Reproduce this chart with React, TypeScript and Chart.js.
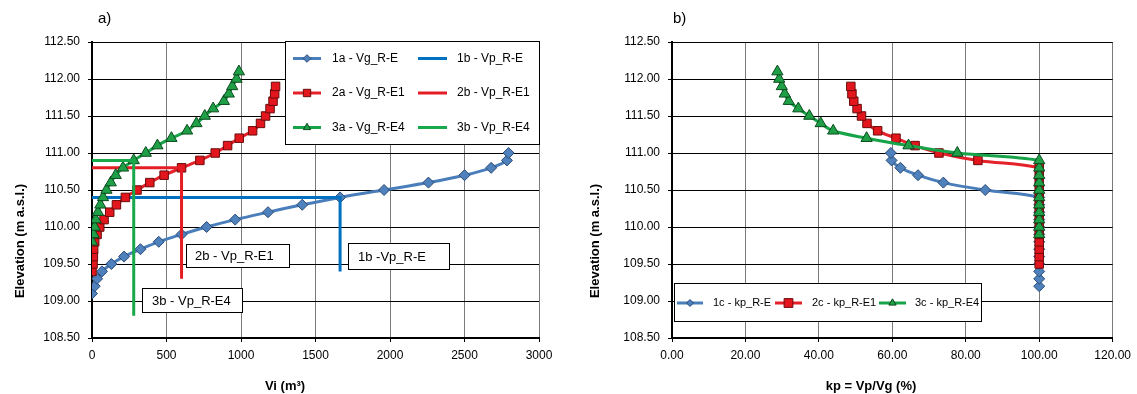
import React, { useEffect, useRef } from 'react';
import { Chart, registerables } from 'chart.js';

Chart.register(...registerables);

const FONT = '"Liberation Sans", Arial, sans-serif';

// ---------------- Panel a) : Vi (m3) vs elevation ----------------
const elev1a = [109.1, 109.2, 109.3, 109.4, 109.5, 109.6, 109.7, 109.8, 109.9, 110.0, 110.1, 110.2, 110.3, 110.4, 110.5, 110.6, 110.7, 110.8, 110.9, 111.0];
const vg1a = [0, 18, 34, 67, 130, 215, 325, 448, 601, 769, 961, 1181, 1411, 1665, 1960, 2258, 2500, 2679, 2785, 2796];

const elev2a = [109.4, 109.5, 109.6, 109.7, 109.8, 109.9, 110.0, 110.1, 110.2, 110.3, 110.4, 110.5, 110.6, 110.7, 110.8, 110.9, 111.0, 111.1, 111.2, 111.3, 111.4, 111.5, 111.6, 111.7, 111.8, 111.9];
const vg2a = [0, 7, 9, 11, 18, 34, 52, 81, 119, 164, 224, 302, 388, 484, 601, 724, 827, 910, 988, 1078, 1131, 1165, 1195, 1215, 1226, 1232];

const elev3a = [109.8, 109.9, 110.0, 110.1, 110.2, 110.3, 110.4, 110.5, 110.6, 110.7, 110.8, 110.9, 111.0, 111.1, 111.2, 111.3, 111.4, 111.5, 111.6, 111.7, 111.8, 111.9, 112.0, 112.1];
const vg3a = [0, 11, 18, 25, 40, 56, 74, 97, 126, 159, 208, 280, 361, 439, 533, 638, 701, 757, 813, 885, 918, 941, 970, 986];

const vp1bX = [0, 1665, 1665];
const vp1bY = [110.4, 110.4, 109.4];
const vp2bX = [0, 601, 601];
const vp2bY = [110.8, 110.8, 109.3];
const vp3bX = [0, 280, 280];
const vp3bY = [110.9, 110.9, 108.8];

const labelsA = ['1a - Vg_R-E', '1b - Vp_R-E', '2a - Vg_R-E1', '2b - Vp_R-E1', '3a - Vg_R-E4', '3b - Vp_R-E4'];
const calloutsA = ['1b -Vp_R-E', '2b - Vp_R-E1', '3b - Vp_R-E4'];

// ---------------- Panel b) : kp = Vp/Vg (%) vs elevation ----------------
const elev1c = [109.2, 109.3, 109.4, 109.5, 109.6, 109.7, 109.8, 109.9, 110.0, 110.1, 110.2, 110.3, 110.4, 110.5, 110.6, 110.7, 110.8, 110.9, 111.0];
const kp1c = [100, 100, 100, 100, 100, 100, 100, 100, 100, 100, 100, 100, 100, 85.3, 73.9, 67.0, 62.2, 59.8, 59.6];

const elev2c = [109.5, 109.6, 109.7, 109.8, 109.9, 110.0, 110.1, 110.2, 110.3, 110.4, 110.5, 110.6, 110.7, 110.8, 110.9, 111.0, 111.1, 111.2, 111.3, 111.4, 111.5, 111.6, 111.7, 111.8, 111.9];
const kp2c = [100, 100, 100, 100, 100, 100, 100, 100, 100, 100, 100, 100, 100, 100, 83.3, 72.7, 66.2, 61.0, 56.0, 53.1, 51.6, 50.4, 49.5, 49.0, 48.7];

const elev3c = [109.9, 110.0, 110.1, 110.2, 110.3, 110.4, 110.5, 110.6, 110.7, 110.8, 110.9, 111.0, 111.1, 111.2, 111.3, 111.4, 111.5, 111.6, 111.7, 111.8, 111.9, 112.0, 112.1];
const kp3c = [100, 100, 100, 100, 100, 100, 100, 100, 100, 100, 100, 77.7, 64.4, 53.0, 43.9, 40.5, 37.4, 34.4, 31.8, 30.7, 29.9, 29.2, 28.7];

const labelsB = ['1c - kp_R-E', '2c - kp_R-E1', '3c - kp_R-E4'];

// ---------------- styles ----------------
const BLUE = { line: '#4A7EBB', fill: '#4F81BD', edge: '#2B4A73', style: 'rectRot', r: 5.5 };
const RED = { line: '#E5212A', fill: '#E3161D', edge: '#6A0B0B', style: 'rect', r: 6 };
const GREEN = { line: '#17A348', fill: '#1FA047', edge: '#0B4A1E', style: 'triangle', r: 6.5 };
const BLUE_B = '#0070C0';
const RED_B = '#E41C24';
const GREEN_B = '#18A94A';

const H = 394;

function pts(xs: number[], ys: number[]) {
  return xs.map((x, i) => ({ x, y: ys[i] }));
}

function curve(label: string, xs: number[], ys: number[], s: any, order: number) {
  return {
    label,
    data: pts(xs, ys),
    showLine: true,
    borderColor: s.line,
    backgroundColor: s.fill,
    borderWidth: 3,
    tension: 0.35,
    pointStyle: s.style,
    pointRadius: s.r,
    pointBackgroundColor: s.fill,
    pointBorderColor: s.edge,
    pointBorderWidth: 1,
    order,
  };
}

function guide(label: string, xs: number[], ys: number[], color: string, order: number) {
  return {
    label,
    data: pts(xs, ys),
    showLine: true,
    borderColor: color,
    backgroundColor: color,
    borderWidth: 3,
    tension: 0,
    pointRadius: 0,
    order,
  };
}

function drawMarker(ctx: CanvasRenderingContext2D, style: string, x: number, y: number, r: number, fill: string, stroke: string) {
  ctx.beginPath();
  if (style === 'rectRot') {
    ctx.moveTo(x - r, y);
    ctx.lineTo(x, y - r);
    ctx.lineTo(x + r, y);
    ctx.lineTo(x, y + r);
    ctx.closePath();
  } else if (style === 'rect') {
    const s = r * Math.SQRT1_2;
    ctx.rect(x - s, y - s, 2 * s, 2 * s);
  } else {
    for (let k = 0; k < 3; k++) {
      const a = (k * 2 * Math.PI) / 3;
      const px = x + Math.sin(a) * r;
      const py = y - Math.cos(a) * r;
      if (k === 0) ctx.moveTo(px, py);
      else ctx.lineTo(px, py);
    }
    ctx.closePath();
  }
  ctx.fillStyle = fill;
  ctx.fill();
  ctx.strokeStyle = stroke;
  ctx.lineWidth = 1;
  ctx.stroke();
}

function sample(ctx: CanvasRenderingContext2D, x1: number, x2: number, y: number, color: string, m?: any, mr?: number) {
  ctx.beginPath();
  ctx.moveTo(x1, y);
  ctx.lineTo(x2, y);
  ctx.strokeStyle = color;
  ctx.lineWidth = 3;
  ctx.stroke();
  if (m) drawMarker(ctx, m.style, (x1 + x2) / 2, y, mr || 4, m.fill, m.edge);
}

function txt(ctx: CanvasRenderingContext2D, s: string, x: number, y: number, font: string, align: CanvasTextAlign = 'left') {
  ctx.font = font;
  ctx.fillStyle = '#000';
  ctx.textAlign = align;
  ctx.textBaseline = 'middle';
  ctx.fillText(s, x, y);
}

function box(ctx: CanvasRenderingContext2D, x1: number, y1: number, x2: number, y2: number) {
  ctx.fillStyle = '#fff';
  ctx.fillRect(x1, y1, x2 - x1, y2 - y1);
  ctx.strokeStyle = '#000';
  ctx.lineWidth = 1;
  ctx.strokeRect(x1 + 0.5, y1 + 0.5, x2 - x1 - 1, y2 - y1 - 1);
}

function yTitle(ctx: CanvasRenderingContext2D, x: number, y: number) {
  ctx.save();
  ctx.translate(x, y);
  ctx.rotate(-Math.PI / 2);
  txt(ctx, 'Elevation (m a.s.l.)', 0, 0, `bold 13px ${FONT}`, 'center');
  ctx.restore();
}

function makeOptions(xMin: number, xMax: number, xStep: number, xFmt: (v: number) => string, yWidth: number, padRight: number) {
  const font = { family: FONT, size: 12 };
  return {
    responsive: false,
    animation: false,
    devicePixelRatio: 1,
    events: [],
    layout: { padding: { top: 42, right: padRight, left: 0, bottom: 0 } },
    plugins: { legend: { display: false }, tooltip: { enabled: false } },
    scales: {
      x: {
        type: 'linear',
        min: xMin,
        max: xMax,
        ticks: { stepSize: xStep, color: '#000', font, padding: 6, maxRotation: 0, autoSkip: false, callback: (v: any) => xFmt(Number(v)) },
        grid: { color: '#7a7a7a', lineWidth: 1, tickLength: 4, tickColor: '#000', tickWidth: 1 },
        border: { color: '#000', width: 2 },
        afterFit: (s: any) => {
          s.height = 56;
        },
      },
      y: {
        type: 'linear',
        min: 108.5,
        max: 112.5,
        ticks: { stepSize: 0.5, color: '#000', font, padding: 8, autoSkip: false, callback: (v: any) => Number(v).toFixed(2) },
        grid: { color: '#000', lineWidth: 1, tickLength: 4, tickColor: '#000', tickWidth: 1 },
        border: { color: '#000', width: 2 },
        afterFit: (s: any) => {
          s.width = yWidth;
        },
      },
    },
  };
}

function configA() {
  const extras = {
    id: 'extrasA',
    afterDraw(chart: any) {
      const ctx: CanvasRenderingContext2D = chart.ctx;
      ctx.save();
      // callout boxes
      box(ctx, 348, 243, 450, 270);
      txt(ctx, calloutsA[0], 358, 257, `13px ${FONT}`);
      box(ctx, 186, 244, 290, 268);
      txt(ctx, calloutsA[1], 195, 256, `13px ${FONT}`);
      box(ctx, 142, 288, 243, 313);
      txt(ctx, calloutsA[2], 152, 301, `13px ${FONT}`);
      // legend
      box(ctx, 285, 41, 540, 145);
      const rows = [58.5, 93, 127.5];
      const f = `12px ${FONT}`;
      const ms = [BLUE, RED, GREEN];
      const mr = [3.8, 5.2, 4.2];
      const bc = [BLUE_B, RED_B, GREEN_B];
      for (let i = 0; i < 3; i++) {
        sample(ctx, 293, 321, rows[i], ms[i].line, ms[i], mr[i]);
        txt(ctx, labelsA[i * 2], 332, rows[i], f);
        sample(ctx, 418, 447, rows[i], bc[i]);
        txt(ctx, labelsA[i * 2 + 1], 457, rows[i], f);
      }
      // titles
      txt(ctx, 'a)', 98, 19, `15px ${FONT}`);
      yTitle(ctx, 20, 241);
      txt(ctx, 'Vi (m\u00B3)', 285, 386, `bold 13px ${FONT}`, 'center');
      ctx.restore();
    },
  };
  return {
    type: 'scatter',
    data: {
      datasets: [
        curve(labelsA[0], vg1a, elev1a, BLUE, 6),
        guide(labelsA[1], vp1bX, vp1bY, BLUE_B, 5),
        curve(labelsA[2], vg2a, elev2a, RED, 4),
        guide(labelsA[3], vp2bX, vp2bY, RED_B, 3),
        curve(labelsA[4], vg3a, elev3a, GREEN, 2),
        guide(labelsA[5], vp3bX, vp3bY, GREEN_B, 1),
      ],
    },
    options: makeOptions(0, 3000, 500, (v) => String(Math.round(v)), 92, 29),
    plugins: [extras],
  };
}

function configB() {
  const extras = {
    id: 'extrasB',
    afterDraw(chart: any) {
      const ctx: CanvasRenderingContext2D = chart.ctx;
      ctx.save();
      box(ctx, 106, 283, 414, 322);
      const f = `11px ${FONT}`;
      const y = 303;
      sample(ctx, 109, 135, y, BLUE.line, BLUE, 3.5);
      txt(ctx, labelsB[0], 145, y, f);
      sample(ctx, 207, 234, y, RED.line, RED, 6.2);
      txt(ctx, labelsB[1], 244, y, f);
      sample(ctx, 311, 338, y, GREEN.line, GREEN, 4.2);
      txt(ctx, labelsB[2], 347, y, f);
      txt(ctx, 'b)', 105, 19, `15px ${FONT}`);
      yTitle(ctx, 27, 241);
      txt(ctx, 'kp = Vp/Vg (%)', 303, 386, `bold 13px ${FONT}`, 'center');
      ctx.restore();
    },
  };
  return {
    type: 'scatter',
    data: {
      datasets: [
        curve(labelsB[0], kp1c, elev1c, BLUE, 3),
        curve(labelsB[1], kp2c, elev2c, RED, 2),
        curve(labelsB[2], kp3c, elev3c, GREEN, 1),
      ],
    },
    options: makeOptions(0, 120, 20, (v) => v.toFixed(2), 104, 21),
    plugins: [extras],
  };
}

function Panel({ left, width, make }: { left: number; width: number; make: () => any }) {
  const ref = useRef<HTMLCanvasElement>(null);
  useEffect(() => {
    const chart = new Chart(ref.current as HTMLCanvasElement, make());
    return () => chart.destroy();
  }, []);
  return (
    <canvas
      ref={ref}
      width={width}
      height={H}
      style={{ position: 'absolute', left, top: 0, width, height: H, display: 'block' }}
    />
  );
}

export default function App() {
  return (
    <div style={{ position: 'absolute', left: 0, top: 0, width: 1137, height: H, background: '#fff', overflow: 'hidden' }}>
      <Panel left={0} width={568} make={configA} />
      <Panel left={568} width={569} make={configB} />
    </div>
  );
}
